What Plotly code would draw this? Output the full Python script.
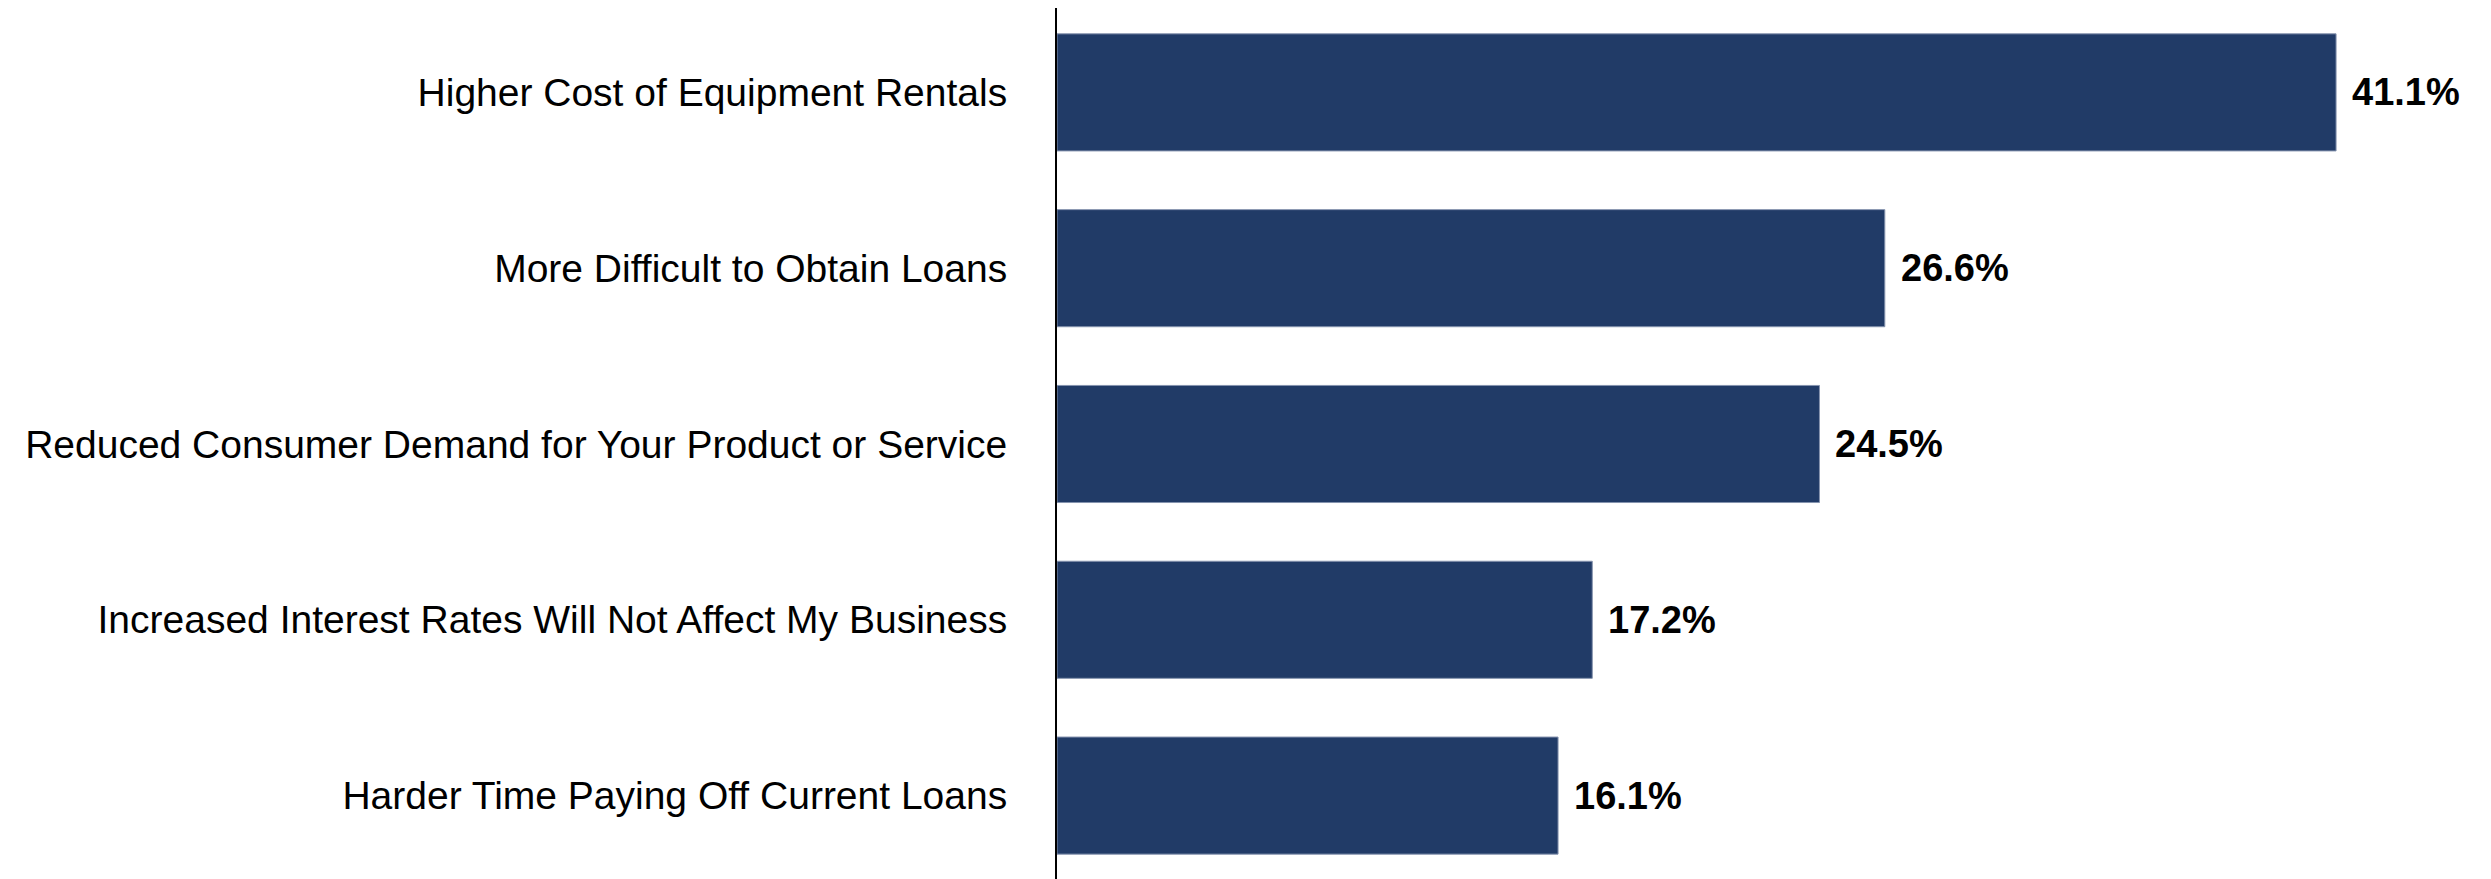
import plotly.graph_objects as go

categories = [
    "Higher Cost of Equipment Rentals",
    "More Difficult to Obtain Loans",
    "Reduced Consumer Demand for Your Product or Service",
    "Increased Interest Rates Will Not Affect My Business",
    "Harder Time Paying Off Current Loans",
]
values = [41.1, 26.6, 24.5, 17.2, 16.1]
value_labels = [f"{v:.1f}%" for v in values]

_FONT = "Liberation Sans Narrow, Arial Narrow, Liberation Sans, Arial, sans-serif"
_BAR = "#213B67"

fig = go.Figure(go.Bar(
    x=values, y=categories, orientation="h",
    marker=dict(color=_BAR, line=dict(color="#8593AE", width=1)),
    hoverinfo="skip",
))

# value labels to the right of each bar
for cat, v, lab in zip(categories, values, value_labels):
    fig.add_annotation(
        x=v, y=cat, text=f"<b>{lab}</b>", showarrow=False,
        xanchor="left", yanchor="middle", xshift=14,
        font=dict(family=_FONT, size=38, color="#000000"),
    )

fig.update_layout(
    width=2491, height=879,
    margin=dict(l=1049, r=26, t=0, b=0, pad=0),
    paper_bgcolor="white", plot_bgcolor="white",
    bargap=0.334, showlegend=False,
    font=dict(family=_FONT, size=39, color="#000000"),
    xaxis=dict(range=[0, 45.5], showgrid=False, zeroline=False,
               showticklabels=False, showline=False, fixedrange=True),
    yaxis=dict(range=[4.52, -0.48], showline=True, linecolor="#000000",
               linewidth=2, ticks="", ticklabelstandoff=40, showgrid=False,
               automargin=False,
               tickfont=dict(family=_FONT, size=39, color="#000000")),
)

fig.write_html("out.html")
